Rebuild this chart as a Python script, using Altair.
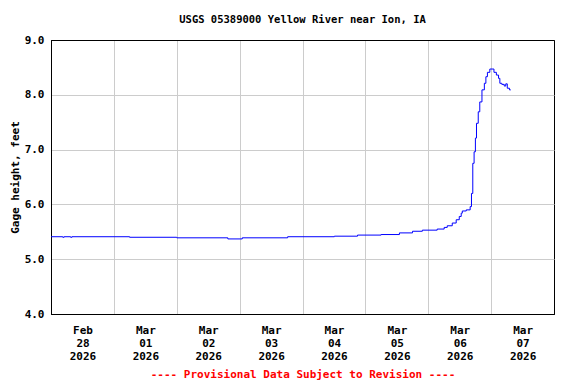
import altair as alt
import pandas as pd

# Gage height readings (time, feet)
times = [
    "2026-02-28T00:00", "2026-02-28T04:30", "2026-02-28T05:00", "2026-02-28T07:30", "2026-02-28T08:00",
    "2026-03-01T06:00", "2026-03-02T00:00", "2026-03-02T19:30", "2026-03-03T01:00",
    "2026-03-03T18:20", "2026-03-04T12:10", "2026-03-04T21:00", "2026-03-05T06:00",
    "2026-03-05T13:00", "2026-03-05T18:00", "2026-03-05T21:45", "2026-03-06T03:25",
    "2026-03-06T06:05", "2026-03-06T07:15", "2026-03-06T09:10", "2026-03-06T10:40",
    "2026-03-06T11:50", "2026-03-06T12:35", "2026-03-06T13:00", "2026-03-06T14:30",
    "2026-03-06T16:00", "2026-03-06T16:30", "2026-03-06T17:00", "2026-03-06T17:30",
    "2026-03-06T18:00", "2026-03-06T18:25", "2026-03-06T19:05", "2026-03-06T19:40",
    "2026-03-06T20:30", "2026-03-06T21:25", "2026-03-06T22:00", "2026-03-06T22:35",
    "2026-03-06T23:30", "2026-03-07T00:20", "2026-03-07T01:05", "2026-03-07T02:00",
    "2026-03-07T02:50", "2026-03-07T03:20", "2026-03-07T04:05", "2026-03-07T05:00",
    "2026-03-07T05:35", "2026-03-07T06:10", "2026-03-07T07:00", "2026-03-07T07:30",
]
heights = [
    5.41, 5.40, 5.41, 5.40, 5.41,
    5.40, 5.39, 5.37, 5.39,
    5.41, 5.42, 5.44, 5.45,
    5.48, 5.51, 5.53, 5.55,
    5.58, 5.61, 5.66, 5.72,
    5.78, 5.84, 5.88, 5.90,
    5.96, 6.20, 6.75, 6.96,
    7.21, 7.48, 7.69, 7.87,
    8.09, 8.21, 8.33, 8.41,
    8.47, 8.47, 8.41, 8.36,
    8.30, 8.21, 8.19, 8.16,
    8.20, 8.12, 8.09, 8.09,
]

y_ticks = [4.0, 5.0, 6.0, 7.0, 8.0, 9.0]
day_ticks = [(2, 28), (3, 1), (3, 2), (3, 3), (3, 4), (3, 5), (3, 6), (3, 7)]

df = pd.DataFrame({"time": times, "height": heights})

FONT = "DejaVu Sans Mono"

chart = (
    alt.Chart(df)
    .mark_line(color="#0000ff", strokeWidth=1, interpolate="step-after")
    .encode(
        x=alt.X(
            "time:T",
            scale=alt.Scale(
                domain=[alt.DateTime(year=2026, month=2, date=28),
                        alt.DateTime(year=2026, month=3, date=8)]
            ),
            axis=alt.Axis(
                values=[alt.DateTime(year=2026, month=m, date=d) for m, d in day_ticks],
                labelExpr="[timeFormat(datum.value, '%b'), timeFormat(datum.value, '%d'), timeFormat(datum.value, '%Y')]",
                labelOffset=31.5,
                labelAlign="center",
                labelPadding=10,
                labelLineHeight=13,
                ticks=False,
                domain=True,
                domainColor="black",
                grid=True,
                gridColor={"condition": {"test": "datum.value < time(datetime(2026, 1, 28, 1))", "value": "black"}, "value": "#cccccc"},
                title="---- Provisional Data Subject to Revision ----",
                titleColor="#ff0000",
                titlePadding=7,
            ),
        ),
        y=alt.Y(
            "height:Q",
            scale=alt.Scale(domain=[4, 9]),
            axis=alt.Axis(
                values=y_ticks,
                format=".1f",
                ticks=False,
                domain=True,
                domainColor="black",
                grid=True,
                gridColor={"condition": {"test": "datum.value <= 4 || datum.value >= 9", "value": "black"}, "value": "#cccccc"},
                labelPadding=7,
                title="Gage height, feet",
                titlePadding=4,
            ),
        ),
    )
    .properties(
        width=503,
        height=274,
        autosize=alt.AutoSizeParams(type="none"),
        padding={"left": 43, "top": 32, "right": 14, "bottom": 68},
        title=alt.TitleParams(
            "USGS 05389000 Yellow River near Ion, IA",
            font=FONT, fontSize=10.5, fontWeight="bold", anchor="middle", offset=9, color="black",
        ),
    )
    .configure_view(stroke="black", strokeWidth=1)
    .configure_axis(
        labelFont=FONT, labelFontSize=11, labelFontWeight="bold", labelColor="black",
        titleFont=FONT, titleFontSize=11, titleFontWeight="bold", titleColor="black",
        gridWidth=1, gridOpacity=1,
    )
)

chart.save("out.html", embed_options={"renderer": "svg", "actions": False})
